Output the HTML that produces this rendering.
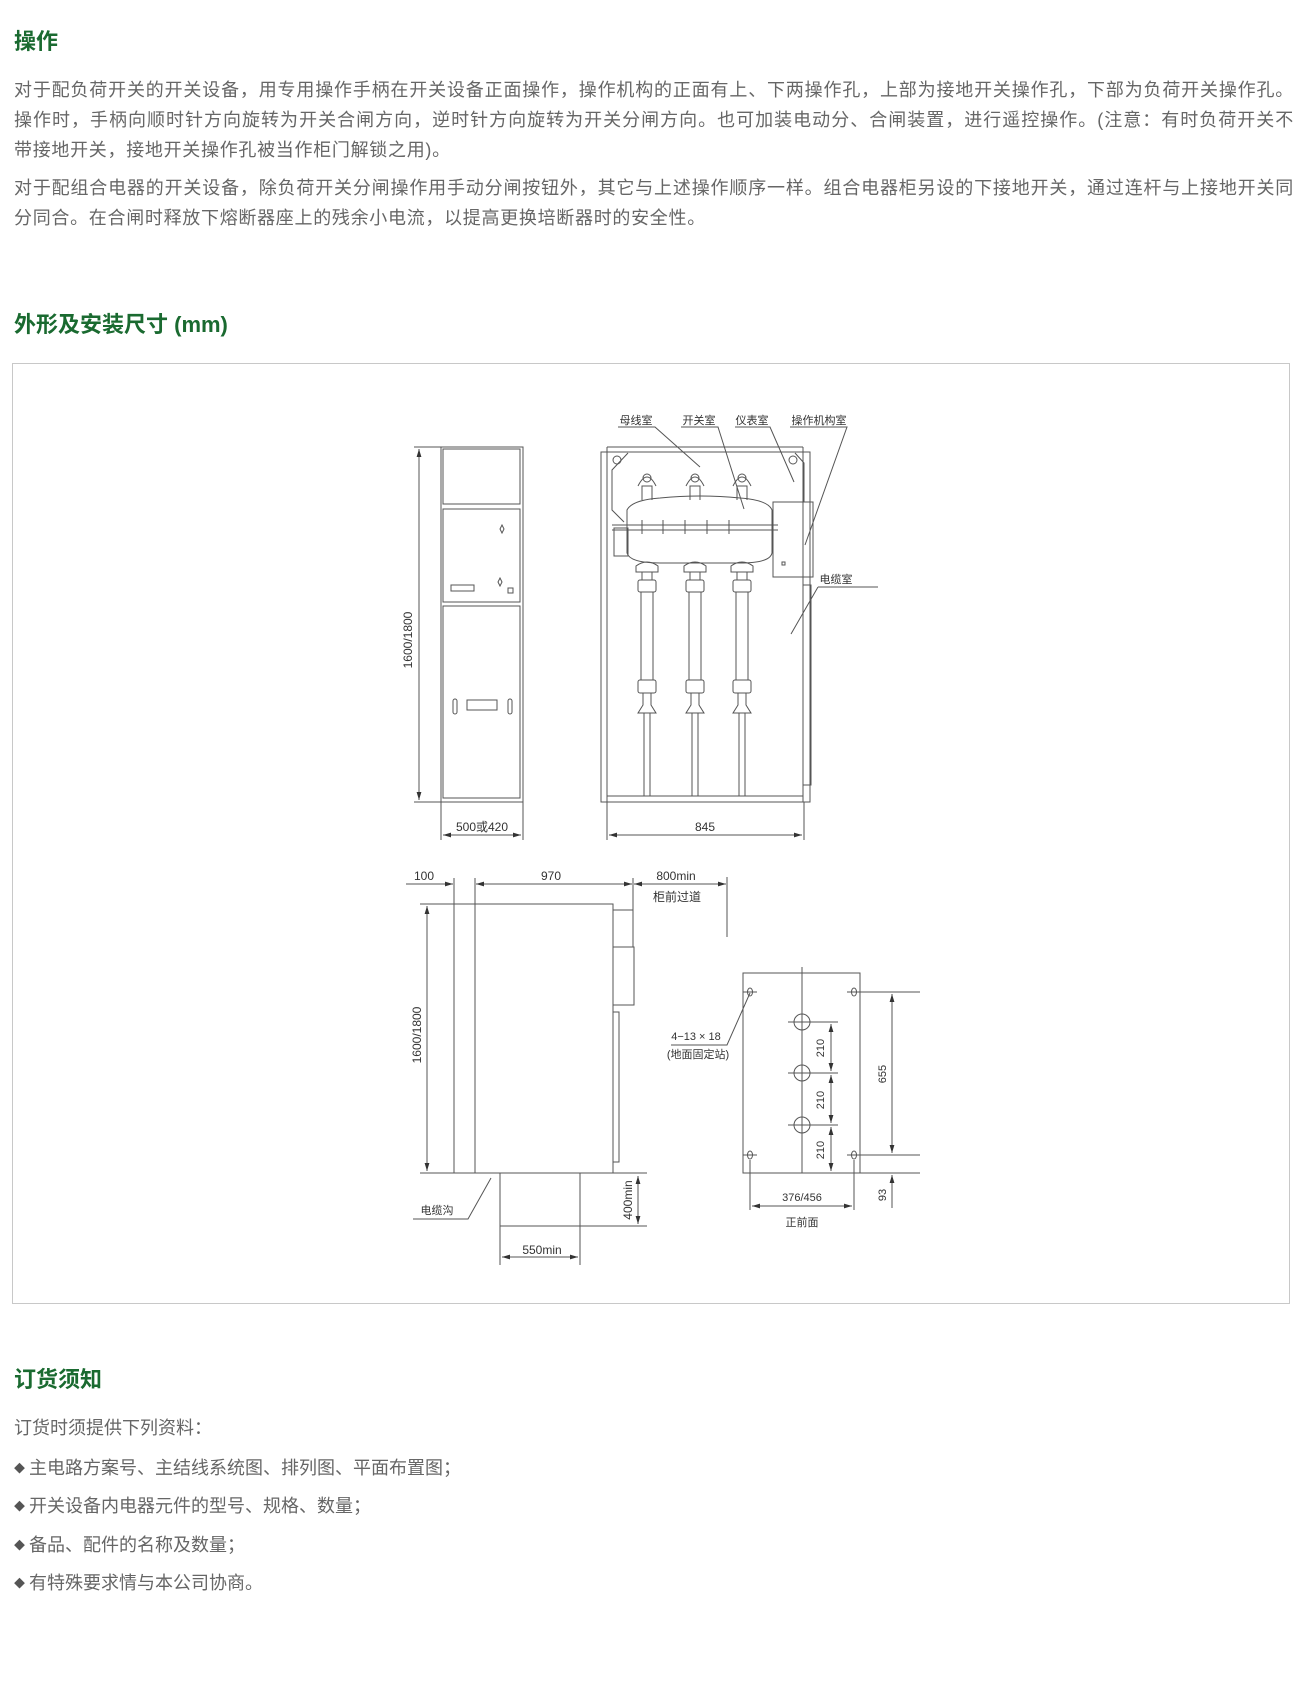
<!DOCTYPE html>
<html><head><meta charset="utf-8">
<style>
body{margin:0;width:1302px;height:1686px;background:#fff;position:relative;font-family:"Liberation Sans","Noto Sans CJK SC",sans-serif;overflow:hidden}
.h{position:absolute;left:14px;color:#1a6a30;font-weight:bold;font-size:22px;line-height:30px;margin:0}
.p{position:absolute;left:14px;width:1280px;color:#666;font-size:18px;line-height:30px;margin:0;text-align:justify;letter-spacing:0.7px}
.p span{display:block;text-align-last:justify}
.li{position:absolute;left:14px;color:#666;font-size:18px;line-height:30px}
.li b{font-weight:normal;display:inline-block;width:15px;font-size:11px;vertical-align:2px;color:#555}
svg{position:absolute;left:0;top:0}
svg text{font-family:"Liberation Sans","Noto Sans CJK SC",sans-serif;fill:#333}
</style></head><body>
<div class="h" style="top:27px">操作</div>
<div class="p" style="top:75px"><span>对于配负荷开关的开关设备，用专用操作手柄在开关设备正面操作，操作机构的正面有上、下两操作孔，上部为接地开关操作孔，下部为负荷开关操作孔。</span><span>操作时，手柄向顺时针方向旋转为开关合闸方向，逆时针方向旋转为开关分闸方向。也可加装电动分、合闸装置，进行遥控操作。(注意：有时负荷开关不</span>带接地开关，接地开关操作孔被当作柜门解锁之用)。</div>
<div class="p" style="top:173px">对于配组合电器的开关设备，除负荷开关分闸操作用手动分闸按钮外，其它与上述操作顺序一样。组合电器柜另设的下接地开关，通过连杆与上接地开关同分同合。在合闸时释放下熔断器座上的残余小电流，以提高更换培断器时的安全性。</div>
<div class="h" style="top:310px">外形及安装尺寸 (mm)</div>
<div style="position:absolute;left:12px;top:363px;width:1276px;height:939px;border:1px solid #c8c8c8"></div>
<div class="h" style="top:1365px">订货须知</div>
<div class="li" style="top:1413px">订货时须提供下列资料：</div>
<div class="li" style="top:1453px"><b>◆</b>主电路方案号、主结线系统图、排列图、平面布置图；</div>
<div class="li" style="top:1491px"><b>◆</b>开关设备内电器元件的型号、规格、数量；</div>
<div class="li" style="top:1530px"><b>◆</b>备品、配件的名称及数量；</div>
<div class="li" style="top:1568px"><b>◆</b>有特殊要求情与本公司协商。</div>

<svg width="1302" height="1686" viewBox="0 0 1302 1686" fill="none" stroke="#555" stroke-width="1">
<defs><marker id="a" viewBox="0 0 10 6" refX="10" refY="3" markerWidth="8" markerHeight="5" orient="auto-start-reverse"><path d="M0,0L10,3L0,6z" fill="#333" stroke="none"/></marker></defs>
<rect x="441" y="447" width="82" height="355"/>
<rect x="443" y="449" width="77" height="55"/>
<rect x="443" y="509" width="77" height="93"/>
<rect x="443" y="606" width="77" height="192"/>
<path d="M502 525l2 4-2 4-2-4zM500 578l2 4-2 4-2-4z" />
<rect x="451" y="585" width="23" height="6"/><rect x="508" y="588" width="5" height="5"/>
<rect x="453" y="699" width="4" height="15" rx="2"/><rect x="508" y="699" width="4" height="15" rx="2"/><rect x="467" y="700" width="30" height="10"/>
<line x1="419" y1="449" x2="419" y2="800" marker-start="url(#a)" marker-end="url(#a)"/>
<line x1="414" y1="447" x2="441" y2="447"/><line x1="414" y1="802" x2="441" y2="802"/>
<text x="412" y="640" font-size="12" transform="rotate(-90 412 640)" text-anchor="middle" stroke="none">1600/1800</text>
<line x1="441" y1="802" x2="441" y2="840"/><line x1="523" y1="802" x2="523" y2="840"/>
<line x1="443" y1="835" x2="521" y2="835" marker-start="url(#a)" marker-end="url(#a)"/>
<text x="482" y="831" font-size="12" text-anchor="middle" stroke="none">500或420</text>
<rect x="601" y="452" width="209" height="350"/>
<line x1="607" y1="447" x2="803" y2="447"/><line x1="607" y1="447" x2="607" y2="802"/><line x1="803" y1="447" x2="803" y2="802"/>
<line x1="607" y1="796" x2="803" y2="796"/>
<path d="M628 453L612 470V510L624 522M795 453L804 463V502"/>
<circle cx="617" cy="460" r="4"/><circle cx="793" cy="460" r="4"/>
<path d="M627 510Q632 500 660 498Q700 494 740 498Q768 500 772 510V553Q770 563 740 563H660Q630 563 627 553Z"/>
<line x1="612" y1="525" x2="778" y2="525"/><line x1="612" y1="530" x2="778" y2="530"/>
<g>
<path d="M642 500v-14h10v14M638 486q9-18 18 0M690 500v-14h10v14M686 486q9-18 18 0M737 500v-14h10v14M733 486q9-18 18 0"/>
<circle cx="647" cy="478" r="4"/><circle cx="695" cy="478" r="4"/><circle cx="742" cy="478" r="4"/>
</g>
<path d="M642 520v14M663 520v14M685 520v14M707 520v14M729 520v14"/>
<rect x="614" y="528" width="14" height="28"/>
<g>
<path d="M636 566q11-8 22 0v6h-22zM684 566q11-8 22 0v6h-22zM731 566q11-8 22 0v6h-22z"/>
<rect x="642" y="572" width="10" height="8"/><rect x="690" y="572" width="10" height="8"/><rect x="737" y="572" width="10" height="8"/>
<rect x="638" y="580" width="18" height="12" rx="2"/><rect x="686" y="580" width="18" height="12" rx="2"/><rect x="733" y="580" width="18" height="12" rx="2"/>
<rect x="641" y="592" width="12" height="88"/><rect x="689" y="592" width="12" height="88"/><rect x="736" y="592" width="12" height="88"/>
<rect x="638" y="680" width="18" height="13" rx="2"/><rect x="686" y="680" width="18" height="13" rx="2"/><rect x="733" y="680" width="18" height="13" rx="2"/>
<path d="M643 693v12l-5 8h18l-5-8v-12M691 693v12l-5 8h18l-5-8v-12M738 693v12l-5 8h18l-5-8v-12"/>
<path d="M644 713v83M650 713v83M692 713v83M698 713v83M739 713v83M745 713v83"/>
</g>
<rect x="773" y="502" width="40" height="75"/><rect x="782" y="562" width="3" height="3"/>
<path d="M803 585h8v200h-8"/>
<line x1="607" y1="802" x2="607" y2="840"/><line x1="804" y1="802" x2="804" y2="840"/>
<line x1="609" y1="835" x2="802" y2="835" marker-start="url(#a)" marker-end="url(#a)"/>
<text x="705" y="831" font-size="12" text-anchor="middle" stroke="none">845</text>
<g font-size="11" stroke="none">
<text x="636" y="424" text-anchor="middle">母线室</text><text x="699" y="424" text-anchor="middle">开关室</text><text x="752" y="424" text-anchor="middle">仪表室</text><text x="819" y="424" text-anchor="middle">操作机构室</text><text x="836" y="583" text-anchor="middle">电缆室</text>
</g>
<path d="M618 427h37l45 40M681 427h37l26 82M735 427h35l24 55M790 427h57l-42 118M818 587h60M818 587l-27 47"/>
<rect x="454" y="904" width="159" height="269"/>
<line x1="475" y1="904" x2="475" y2="1173"/>
<rect x="613" y="910" width="20" height="37"/><rect x="613" y="947" width="21" height="58"/><rect x="613" y="1012" width="6" height="150"/>
<line x1="420" y1="904" x2="454" y2="904"/><line x1="420" y1="1173" x2="647" y2="1173"/>
<line x1="427" y1="906" x2="427" y2="1171" marker-start="url(#a)" marker-end="url(#a)"/>
<text x="421" y="1035" font-size="12" transform="rotate(-90 421 1035)" text-anchor="middle" stroke="none">1600/1800</text>
<line x1="454" y1="878" x2="454" y2="904"/><line x1="475" y1="878" x2="475" y2="904"/><line x1="633" y1="878" x2="633" y2="910"/><line x1="727" y1="877" x2="727" y2="937"/>
<line x1="406" y1="884" x2="453" y2="884" marker-end="url(#a)"/>
<line x1="476" y1="884" x2="632" y2="884" marker-start="url(#a)" marker-end="url(#a)"/>
<line x1="634" y1="884" x2="726" y2="884" marker-start="url(#a)" marker-end="url(#a)"/>
<g font-size="12" stroke="none" text-anchor="middle">
<text x="424" y="880">100</text><text x="551" y="880">970</text><text x="676" y="880">800min</text><text x="677" y="901">柜前过道</text>
<text x="437" y="1214" font-size="11">电缆沟</text>
<text x="542" y="1254">550min</text>
<text x="632" y="1200" transform="rotate(-90 632 1200)">400min</text>
</g>
<path d="M500 1173V1265M580 1173V1265M500 1226H647"/>
<line x1="638" y1="1176" x2="638" y2="1224" marker-start="url(#a)" marker-end="url(#a)"/>
<line x1="502" y1="1257" x2="578" y2="1257" marker-start="url(#a)" marker-end="url(#a)"/>
<path d="M413 1219h55l23-41"/>
<rect x="743" y="973" width="117" height="200"/>
<line x1="802" y1="967" x2="802" y2="1173"/>
<g>
<ellipse cx="750" cy="992" rx="2.5" ry="4"/><ellipse cx="854" cy="992" rx="2.5" ry="4"/><ellipse cx="750" cy="1155" rx="2.5" ry="4"/><ellipse cx="854" cy="1155" rx="2.5" ry="4"/>
<path d="M743 992h14M847 992h73M743 1155h14M847 1155h73M788 1022h50M788 1073h50M788 1125h50M860 1173h60"/>
<circle cx="802" cy="1022" r="8"/><circle cx="802" cy="1073" r="8"/><circle cx="802" cy="1125" r="8"/>
</g>
<line x1="831" y1="1024" x2="831" y2="1071" marker-start="url(#a)" marker-end="url(#a)"/>
<line x1="831" y1="1075" x2="831" y2="1123" marker-start="url(#a)" marker-end="url(#a)"/>
<line x1="831" y1="1127" x2="831" y2="1171" marker-start="url(#a)" marker-end="url(#a)"/>
<line x1="892" y1="994" x2="892" y2="1153" marker-start="url(#a)" marker-end="url(#a)"/>
<line x1="892" y1="1175" x2="892" y2="1208" marker-start="url(#a)"/>
<path d="M750 1160v50M854 1160v50"/>
<line x1="752" y1="1206" x2="852" y2="1206" marker-start="url(#a)" marker-end="url(#a)"/>
<path d="M671 1045h56l23-52"/>
<g font-size="11" stroke="none" text-anchor="middle">
<text x="824" y="1048" transform="rotate(-90 824 1048)">210</text>
<text x="824" y="1100" transform="rotate(-90 824 1100)">210</text>
<text x="824" y="1150" transform="rotate(-90 824 1150)">210</text>
<text x="886" y="1074" transform="rotate(-90 886 1074)">655</text>
<text x="886" y="1195" transform="rotate(-90 886 1195)">93</text>
<text x="802" y="1201">376/456</text>
<text x="802" y="1226">正前面</text>
<text x="696" y="1040">4−13 × 18</text>
<text x="698" y="1058">(地面固定站)</text>
</g>
</svg>
</body></html>
